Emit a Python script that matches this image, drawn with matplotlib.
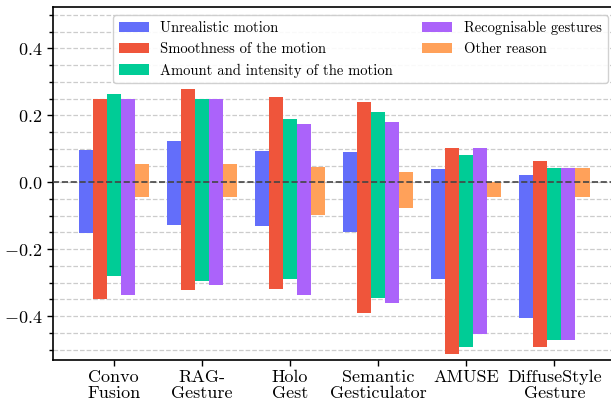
import numpy as np
import matplotlib
matplotlib.use("Agg")
import matplotlib.pyplot as plt
from matplotlib.ticker import MultipleLocator

plt.rcParams['font.family'] = 'serif'
plt.rcParams['font.serif'] = ['cmr10']
plt.rcParams['mathtext.fontset'] = 'cm'
plt.rcParams['axes.formatter.use_mathtext'] = True
plt.rcParams['axes.unicode_minus'] = True

models = ['Convo\nFusion', 'RAG-\nGesture', 'Holo\nGest', 'Semantic\nGesticulator',
          'AMUSE', 'DiffuseStyle\nGesture']

reasons = ['Unrealistic motion', 'Smoothness of the motion',
           'Amount and intensity of the motion', 'Recognisable gestures',
           'Other reason']

colors = ['#636EFA', '#EF553B', '#00CC96', '#AB63FA', '#FFA15A']

# positive share per reason, one list per model order above
pos_unrealistic = [0.097, 0.123, 0.094, 0.090, 0.040, 0.022]
pos_smoothness = [0.249, 0.279, 0.254, 0.240, 0.102, 0.064]
pos_amount = [0.263, 0.249, 0.189, 0.210, 0.082, 0.043]
pos_recognisable = [0.249, 0.249, 0.174, 0.180, 0.102, 0.043]
pos_other = [0.055, 0.055, 0.047, 0.031, 0.0, 0.043]

# negative share per reason
neg_unrealistic = [-0.152, -0.127, -0.130, -0.150, -0.289, -0.407]
neg_smoothness = [-0.349, -0.322, -0.319, -0.390, -0.512, -0.491]
neg_amount = [-0.280, -0.294, -0.289, -0.346, -0.491, -0.471]
neg_recognisable = [-0.337, -0.307, -0.337, -0.361, -0.452, -0.471]
neg_other = [-0.043, -0.043, -0.098, -0.076, -0.043, -0.043]

pos = [pos_unrealistic, pos_smoothness, pos_amount, pos_recognisable, pos_other]
neg = [neg_unrealistic, neg_smoothness, neg_amount, neg_recognisable, neg_other]

fig = plt.figure(figsize=(6.11, 4.04), dpi=100)
# axes runs a little past the right edge, as in the source (no right spine visible)
ax = fig.add_axes([53 / 611, 1 - 360.3 / 404, 575 / 611, 353 / 404])

x = np.arange(len(models))
w = 0.16
for i, name in enumerate(reasons):
    off = (i - 2) * w
    ax.bar(x + off, pos[i], w, color=colors[i], label=name, zorder=3)
    ax.bar(x + off, neg[i], w, color=colors[i], zorder=3)

ax.axhline(0, color='#444444', linestyle='--', linewidth=1.2, zorder=4)

ax.set_xlim(-0.69, 5.837)
ax.set_ylim(-0.532, 0.523)
ax.yaxis.set_major_locator(MultipleLocator(0.2))
ax.yaxis.set_minor_locator(MultipleLocator(0.05))
ax.grid(True, which='both', axis='y', linestyle='--', color='#cccccc',
        linewidth=0.9, zorder=0)
ax.set_xticks(x)
ax.set_xticklabels(models, fontsize=13, linespacing=1.12, va='top')
ax.tick_params(axis='x', pad=2.5)
ax.tick_params(axis='y', labelsize=13)
ax.tick_params(which='major', length=4, width=1)
ax.tick_params(which='minor', length=3, width=1)
for s in ax.spines.values():
    s.set_linewidth(1.2)

fig.legend(loc='upper left', bbox_to_anchor=(113 / 611, 1 - 15 / 404),
           ncol=2, fontsize=10.5, borderaxespad=0, columnspacing=2.0,
           handlelength=2.05, framealpha=0.9, edgecolor='#cccccc')

fig.savefig('out.png', dpi=100)
